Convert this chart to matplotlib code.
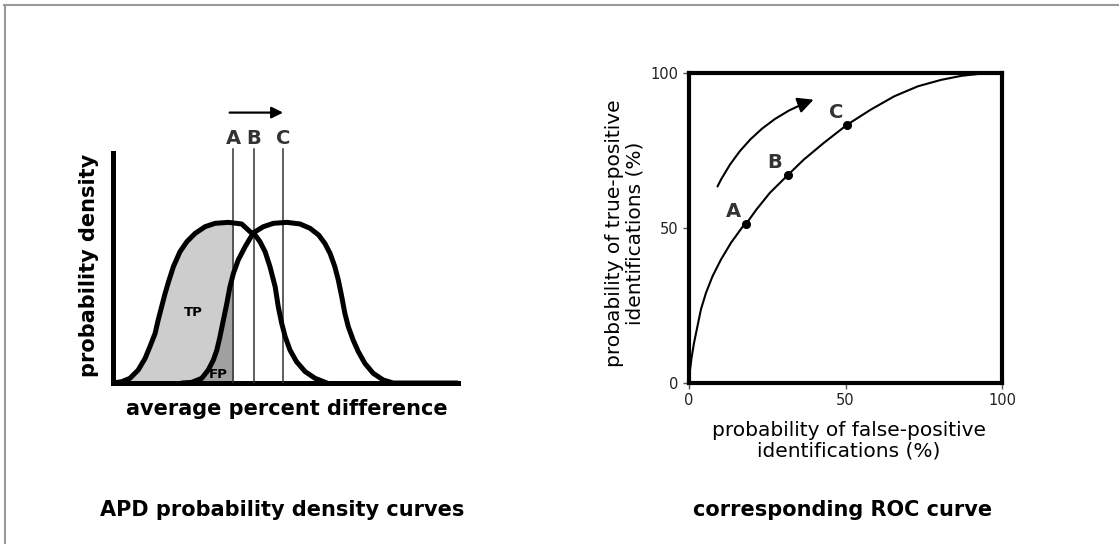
import numpy as np
import matplotlib.pyplot as plt
from matplotlib.patches import FancyArrowPatch, Rectangle
from matplotlib.lines import Line2D

# density curves (x: 0-100 along axis, y: peak ~100)
neg_x = [0, 2.5, 4.9, 7.3, 9.3, 10.7, 12.2, 13.1, 14.1, 15.1, 16.1, 17.5,
         19.4, 21.4, 23.8, 26.7, 29.6, 33.4, 37.3, 39.7, 41.2, 42.6, 44.1,
         45.5, 47.0, 47.9, 48.9, 49.9, 51.3, 53.2, 55.7, 58.6, 62.0]
neg_y = [0, 0.8, 2.9, 8.1, 15.4, 22.7, 31.0, 39.4, 47.7, 56.0, 63.3, 72.7,
         82.0, 88.3, 93.5, 97.7, 99.8, 100.4, 99.4, 94.6, 92.5, 88.3, 82.0,
         72.7, 60.2, 47.7, 37.3, 29.0, 20.6, 13.3, 7.1, 2.9, 0]
pos_x = [20.0, 22.8, 25.7, 27.6, 29.1, 30.1, 31.0, 32.0, 33.0, 33.9, 34.9,
         36.3, 38.3, 40.7, 43.6, 46.5, 50.4, 54.2, 57.1, 59.6, 61.4, 62.9,
         64.3, 65.3, 66.3, 67.2, 68.2, 69.6, 71.1, 73.0, 75.4, 78.3, 81.2, 100]
pos_y = [0, 0.4, 2.9, 8.1, 14.4, 20.6, 28.9, 39.4, 49.8, 60.2, 68.5,
         76.9, 85.2, 93.9, 97.7, 99.8, 100.4, 99.4, 96.7, 92.5, 87.3, 81.1,
         72.7, 64.4, 54.0, 43.6, 35.2, 26.9, 19.6, 12.3, 6.1, 1.9, 0, 0]
cut_names = ["A", "B", "C"]
cut_x = [34.8, 40.9, 49.3]

# ROC curve (false-positive %, true-positive %)
roc_fpr = [0, 0.3, 0.8, 1.6, 3.8, 5.4, 7.5, 10.2, 13.4, 17.2, 18.3, 21.5,
           25.8, 31.5, 36.6, 43.0, 50.5, 58.1, 65.6, 73.1, 80.6, 87.1, 93.5, 100]
roc_tpr = [0, 4.0, 8.0, 12.9, 23.7, 29.0, 34.4, 39.8, 45.2, 50.5, 51.4, 55.9,
           61.3, 67.0, 72.0, 77.4, 83.3, 88.2, 92.5, 95.7, 97.8, 99.1, 99.8, 100]
pt_fpr = [18.3, 31.5, 50.5]
pt_tpr = [51.4, 67.0, 83.3]
pt_label_x = [14.1, 27.5, 47.0]
pt_label_y = [55.2, 71.0, 87.4]

W, H = 1119, 544
def fx(px):
    return px / W
def fy(py):
    return 1 - py / H

fig = plt.figure(figsize=(W / 100, H / 100), dpi=100)

# ---- left panel: probability density curves ----
ax1 = fig.add_axes([fx(113), fy(383), 345 / W, 288 / H])
ax1.set_xlim(0, 100)
ax1.set_ylim(0, 180)

light = ax1.fill_between(neg_x, neg_y, color="#cdcdcd", lw=0)
dark = ax1.fill_between(pos_x, pos_y, color="#a0a0a0", lw=0)
for f in (light, dark):
    f.set_clip_path(Rectangle((0, 0), cut_x[0], 200, transform=ax1.transData))

for name, x in zip(cut_names, cut_x):
    ax1.plot([x, x], [0, 146], color="#333333", lw=1.1, zorder=3)
    ax1.text(x, 153, name, ha="center", va="center", fontsize=14,
             fontweight="bold", color="#333333")

for cx, cy in ((neg_x, neg_y), (pos_x, pos_y)):
    ax1.plot(cx, cy, color="black", lw=3.6, zorder=4,
             solid_capstyle="round", solid_joinstyle="round")

ax1.annotate("", xy=(cut_x[2], 169), xytext=(cut_x[0] - 1, 169),
             arrowprops=dict(arrowstyle="-|>", color="black", lw=1.6,
                             mutation_scale=17, shrinkA=0, shrinkB=0))

ax1.text(23.2, 43.8, "TP", ha="center", va="center", fontsize=9.5, fontweight="bold")
ax1.text(30.6, 5.6, "FP", ha="center", va="center", fontsize=9.5, fontweight="bold")

for s in ["top", "right"]:
    ax1.spines[s].set_visible(False)
ax1.spines["left"].set_linewidth(3.6)
ax1.spines["bottom"].set_linewidth(3.6)
ax1.spines["left"].set_bounds(0, 144)
ax1.set_xticks([])
ax1.set_yticks([])
ax1.patch.set_alpha(0)

fig.text(fx(89), fy(265), "probability density", rotation=90, ha="center",
         va="center", fontsize=15, fontweight="bold")
fig.text(fx(287), fy(409), "average percent difference", ha="center",
         va="center", fontsize=15, fontweight="bold")

# ---- right panel: ROC curve ----
ax2 = fig.add_axes([fx(689), fy(383), 313 / W, 310 / H])
ax2.set_xlim(0, 100)
ax2.set_ylim(0, 100)
ax2.plot(roc_fpr, roc_tpr, color="black", lw=1.5, solid_joinstyle="round")
ax2.plot(pt_fpr, pt_tpr, "o", color="black", ms=5.5)
for name, x, y in zip(cut_names, pt_label_x, pt_label_y):
    ax2.text(x, y, name, ha="center", va="center", fontsize=14,
             fontweight="bold", color="#333333")

arr = FancyArrowPatch((9.1, 63.4), (39.8, 91.4), connectionstyle="arc3,rad=-0.2",
                      arrowstyle="-|>", mutation_scale=24, lw=1.5, color="black",
                      shrinkA=0, shrinkB=0)
ax2.add_patch(arr)

for s in ax2.spines.values():
    s.set_linewidth(3)
ax2.set_xticks([0, 50, 100])
ax2.set_yticks([0, 50, 100])
ax2.tick_params(labelsize=10.5, length=4, width=1, color="#555555", labelcolor="#222222")

fig.text(fx(849), fy(441), "probability of false-positive\nidentifications (%)",
         ha="center", va="center", fontsize=14.5, linespacing=1.1)
fig.text(fx(625), fy(233), "probability of true-positive\nidentifications (%)",
         ha="center", va="center", rotation=90, fontsize=14.5, linespacing=1.1)

# panel captions
fig.text(fx(282), fy(510), "APD probability density curves", ha="center",
         va="center", fontsize=15, fontweight="bold")
fig.text(fx(843), fy(510), "corresponding ROC curve", ha="center",
         va="center", fontsize=15, fontweight="bold")

# frame lines
fig.add_artist(Line2D([fx(4), 1], [fy(5), fy(5)], transform=fig.transFigure,
                      color="#999999", lw=1.5))
fig.add_artist(Line2D([fx(4.5), fx(4.5)], [0, fy(5)], transform=fig.transFigure,
                      color="#999999", lw=1.5))

fig.savefig("out.png", dpi=100)
